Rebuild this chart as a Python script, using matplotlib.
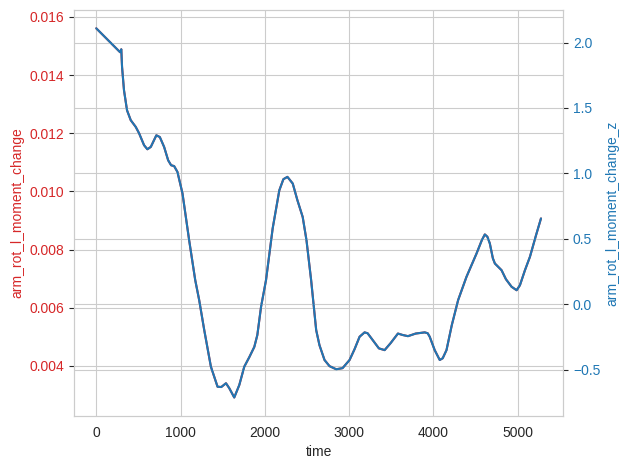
import numpy as np
import matplotlib
matplotlib.use("Agg")
import matplotlib.pyplot as plt
import seaborn as sns

# values
time = [0, 282, 297, 306, 329, 365, 409, 468, 508, 567, 606, 647, 713, 754, 805,
        853, 888, 924, 963, 1023, 1102, 1174, 1221, 1281, 1360, 1439, 1483, 1539,
        1578, 1637, 1697, 1756, 1816, 1875, 1911, 1955, 2014, 2093, 2172, 2220,
        2268, 2331, 2386, 2449, 2494, 2549, 2609, 2648, 2708, 2767, 2847, 2922,
        3005, 3064, 3124, 3183, 3219, 3263, 3353, 3421, 3492, 3579, 3635, 3698,
        3790, 3897, 3932, 3956, 4015, 4075, 4110, 4155, 4218, 4293, 4392, 4511,
        4574, 4610, 4640, 4669, 4705, 4729, 4808, 4860, 4927, 4987, 5026, 5086,
        5145, 5217, 5276]
moment_change = [0.01561, 0.01479, 0.01489, 0.01428, 0.01348, 0.01279, 0.01245,
                 0.01222, 0.01200, 0.01159, 0.01145, 0.01153, 0.01193, 0.01187,
                 0.01153, 0.01107, 0.01090, 0.01087, 0.01067, 0.00993, 0.00832,
                 0.00695, 0.00626, 0.00523, 0.00397, 0.00328, 0.00327, 0.00340,
                 0.00323, 0.00291, 0.00334, 0.00397, 0.00430, 0.00465, 0.00506,
                 0.00603, 0.00695, 0.00873, 0.01004, 0.01042, 0.01050, 0.01027,
                 0.00970, 0.00912, 0.00832, 0.00695, 0.00523, 0.00471, 0.00420,
                 0.00399, 0.00388, 0.00392, 0.00420, 0.00457, 0.00500, 0.00515,
                 0.00512, 0.00495, 0.00460, 0.00454, 0.00478, 0.00511, 0.00506,
                 0.00502, 0.00511, 0.00515, 0.00512, 0.00500, 0.00454, 0.00420,
                 0.00426, 0.00454, 0.00540, 0.00626, 0.00706, 0.00786, 0.00832,
                 0.00852, 0.00844, 0.00821, 0.00770, 0.00752, 0.00729, 0.00698,
                 0.00672, 0.00660, 0.00677, 0.00729, 0.00775, 0.00849, 0.00907]

# standardisation constants (mean / std of the full series)
MEAN = 0.00612
STD = 0.0045

moment_change = np.array(moment_change)
moment_z = (moment_change - MEAN) / STD

sns.set_style("whitegrid")
plt.rcParams['font.family'] = ['Liberation Sans', 'DejaVu Sans']

fig, ax1 = plt.subplots(figsize=(6.3, 4.7), dpi=100)

ax1.plot(time, moment_change, color='tab:red')
ax1.set_xlabel('time')
ax1.set_ylabel('arm_rot_l_moment_change', color='tab:red')
ax1.tick_params(axis='y', labelcolor='tab:red')

ax2 = ax1.twinx()
ax2.plot(time, moment_z, color='tab:blue')
ax2.set_ylabel('arm_rot_l_moment_change_z', color='tab:blue')
ax2.tick_params(axis='y', labelcolor='tab:blue')

fig.subplots_adjust(left=0.1175, right=0.894, top=0.979, bottom=0.115)
fig.savefig('out.png', dpi=100)
